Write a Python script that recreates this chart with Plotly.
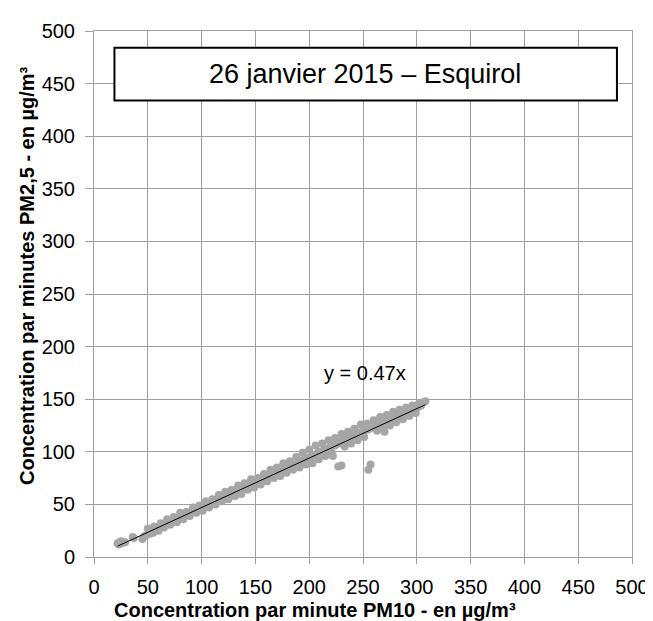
import plotly.graph_objects as go

# ---- Data (per-minute PM10 vs PM2.5, µg/m³) ----
pm10_main = [22, 23, 24, 26, 25, 29, 36, 37,
             45, 47, 49, 52, 54, 55, 58, 60, 62, 64, 66, 68, 70, 72, 74, 76, 78, 80, 82, 84, 86, 88,
             90, 92, 94, 96, 98, 100, 102, 104, 106, 108, 110, 112, 114, 116, 118, 120, 122, 124, 126, 128,
             130, 132, 134, 136, 138, 140, 142, 144, 146, 148, 150, 152, 154, 156, 158, 160, 162, 164, 166, 168,
             170, 172, 174, 176, 178, 180, 182, 184, 186, 188, 190, 192, 194, 196, 198, 200, 202, 204, 206, 208,
             210, 212, 214, 216, 218, 220, 222, 224, 226, 228, 230, 232, 234, 236, 238, 240, 242, 244, 246, 248,
             250, 252, 254, 256, 258, 260, 262, 264, 266, 268, 270, 272, 274, 276, 278, 280, 282, 284, 286, 288,
             290, 292, 294, 296, 298, 300, 302, 304, 306, 308]
pm25_main = [13, 12, 14, 13, 15, 14, 19, 18,
             17, 20, 21, 22, 24, 23, 26, 25, 28, 29, 30, 31, 31, 33, 34, 35, 36, 37, 37, 39, 41, 40,
             42, 43, 44, 45, 46, 47, 47, 49, 50, 51, 51, 53, 53, 55, 55, 56, 57, 59, 59, 60,
             61, 62, 63, 64, 65, 65, 67, 68, 68, 70, 70, 71, 73, 73, 74, 75, 76, 78, 77, 79,
             80, 81, 82, 83, 84, 84, 86, 87, 87, 88, 90, 90, 92, 92, 94, 94, 95, 97, 97, 99,
             100, 100, 102, 103, 103, 105, 106, 106, 108, 108, 110, 111, 111, 113, 113, 115, 116, 116, 118, 118,
             120, 121, 121, 122, 123, 124, 125, 126, 127, 128, 128, 130, 130, 131, 132, 133, 134, 134, 135, 136,
             137, 138, 139, 140, 140, 142, 143, 144, 147, 148]

pm10_upper = [50, 56, 62, 68, 74, 80, 86, 92, 98, 104, 110, 116, 122, 128, 134, 140, 146, 152, 158, 164,
              170, 176, 182, 188, 194, 200, 206, 212, 218, 224, 230, 236, 242, 248, 254, 260, 266, 272, 278,
              284, 290, 296, 302]
pm25_upper = [27, 29, 32, 36, 38, 42, 43, 47, 49, 53, 55, 59, 62, 64, 68, 70, 74, 75, 79, 83,
              85, 89, 91, 95, 99, 102, 106, 108, 111, 113, 117, 119, 122, 126, 127, 130, 133, 135, 138,
              140, 142, 144, 146]

pm10_lower = [53, 59, 65, 71, 77, 83, 89, 95, 101, 107, 113, 119, 125, 131, 137, 143, 149, 155, 161, 167,
              173, 179, 185, 191, 197, 203, 209, 215, 221, 233, 239, 245, 251, 263, 269, 275, 281, 287, 293, 299]
pm25_lower = [23, 26, 28, 31, 33, 36, 39, 42, 44, 47, 50, 53, 55, 58, 60, 64, 66, 69, 72, 75,
              77, 80, 83, 85, 88, 89, 93, 96, 99, 105, 108, 111, 114, 120, 122, 125, 128, 131, 134, 137]

pm10_outliers = [227, 230, 255, 257, 270, 222]
pm25_outliers = [86, 87, 83, 88, 119, 96]

slope = 0.47
x_ticks = [0, 50, 100, 150, 200, 250, 300, 350, 400, 450, 500]
y_ticks = [0, 50, 100, 150, 200, 250, 300, 350, 400, 450, 500]
chart_title = "26 janvier 2015 – Esquirol"
equation = "y = 0.47x"
x_title = "Concentration par minute PM10 - en µg/m³"
y_title = "Concentration par minutes PM2,5 - en µg/m³"

pm10 = pm10_main + pm10_upper + pm10_lower + pm10_outliers
pm25 = pm25_main + pm25_upper + pm25_lower + pm25_outliers

x_fit = [min(pm10), max(pm10)]
y_fit = [slope * v for v in x_fit]

FONT = "Liberation Sans, Arial, sans-serif"
grid = "#A0A0A0"

fig = go.Figure()
fig.add_trace(go.Scatter(x=pm10, y=pm25, mode="markers",
                         marker=dict(color="#A6A6A6", size=8, line=dict(width=0)),
                         showlegend=False, hoverinfo="skip"))
fig.add_trace(go.Scatter(x=x_fit, y=y_fit, mode="lines",
                         line=dict(color="black", width=1),
                         showlegend=False, hoverinfo="skip"))

fig.update_xaxes(range=[0, 500], tickvals=x_ticks, showgrid=True, gridcolor=grid, gridwidth=1,
                 showline=True, linecolor=grid, linewidth=1, mirror=True,
                 ticks="outside", ticklen=6, tickcolor=grid, zeroline=False,
                 ticklabelstandoff=6,
                 tickfont=dict(family=FONT, size=20, color="black"))
fig.update_yaxes(range=[0, 500], tickvals=y_ticks, showgrid=True, gridcolor=grid, gridwidth=1,
                 showline=True, linecolor=grid, linewidth=1, mirror=True,
                 ticks="outside", ticklen=8, tickcolor=grid, zeroline=False,
                 ticklabelstandoff=6,
                 tickfont=dict(family=FONT, size=20, color="black"))

# chart title box
fig.add_shape(type="rect", xref="x", yref="y", x0=19, x1=486, y0=434, y1=484,
              line=dict(color="black", width=2), fillcolor="white", layer="above")
fig.add_annotation(x=252, y=459, xref="x", yref="y", text=chart_title, showarrow=False,
                   font=dict(family=FONT, size=27, color="black"))
# trendline equation
fig.add_annotation(x=251.5, y=174.6, xref="x", yref="y", text=equation, showarrow=False,
                   font=dict(family=FONT, size=20, color="black"))
# axis titles
fig.add_annotation(x=205, y=-0.1006, xref="x", yref="paper", text="<b>" + x_title + "</b>",
                   showarrow=False, xanchor="center", yanchor="middle",
                   font=dict(family=FONT, size=20, color="black"))
fig.add_annotation(x=-0.1257, y=0.937, xref="paper", yref="paper", text="<b>" + y_title + "</b>",
                   showarrow=False, textangle=-90, xanchor="center", yanchor="top",
                   font=dict(family=FONT, size=20, color="black"))

fig.update_layout(width=653, height=621, margin=dict(l=86, r=18, t=12, b=72),
                  plot_bgcolor="white", paper_bgcolor="white")

fig.write_html("out.html")
